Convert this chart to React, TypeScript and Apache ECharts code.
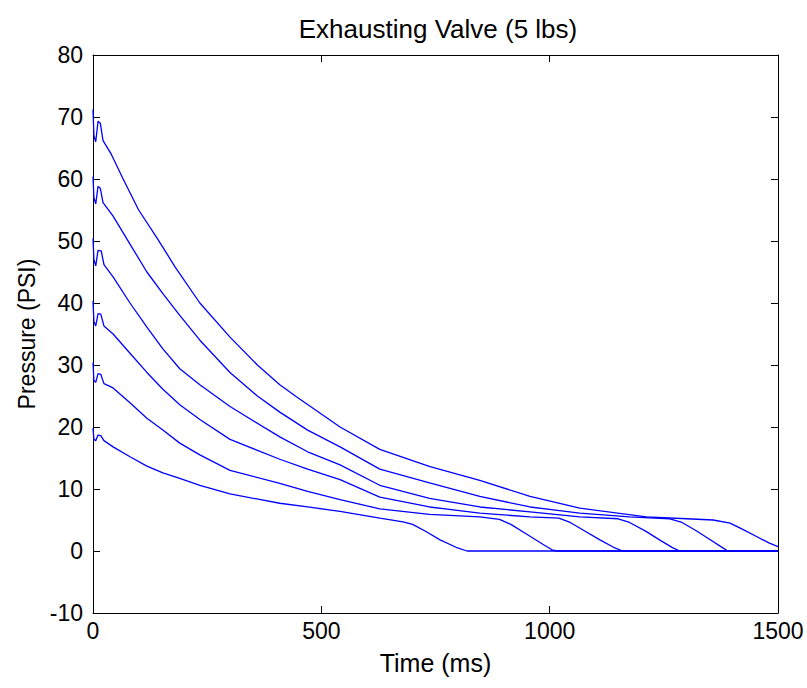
import React, { useEffect, useRef } from "react";
import * as echarts from "echarts";

const titleText = "Exhausting Valve (5 lbs)";
const xName = "Time (ms)";
const yName = "Pressure (PSI)";
const xTicks = { min: 0, max: 1500, interval: 500 };
const yTicks = { min: -10, max: 80, interval: 10 };

const p70: [number, number][] = [
  [0, 71.2], [2, 67], [6, 66], [11, 69.3], [16, 69], [22, 66.2], [40, 64], [66, 60], [100, 55],
  [140, 50.5], [180, 45.8], [234, 40], [300, 34.5], [360, 30], [409, 26.8], [447, 24.8], [541, 20],
  [628, 16.4], [738, 13.6], [847, 11.4], [957, 8.8], [1066, 6.9], [1212, 5.5], [1300, 5.2],
  [1358, 5.0], [1395, 4.5], [1425, 3.4], [1454, 2.3], [1480, 1.3], [1500, 0.7],
];
const p60: [number, number][] = [
  [0, 60.4], [2, 57], [6, 56], [11, 58.8], [16, 58.5], [22, 56.2], [44, 54], [81, 49.5], [118, 45],
  [153, 41.5], [190, 38], [234, 34], [300, 28.8], [360, 25], [409, 22.4], [470, 19.5], [541, 16.8],
  [628, 13.2], [737, 11.0], [847, 8.8], [957, 7.1], [1066, 6.1], [1175, 5.5], [1263, 5.2],
  [1290, 4.6], [1320, 3.3], [1350, 1.9], [1375, 0.7], [1390, 0], [1500, 0],
];
const p50: [number, number][] = [
  [0, 50.4], [2, 47], [6, 46], [11, 48.5], [18, 48.4], [24, 46.2], [44, 44.2], [81, 40], [118, 36.1],
  [153, 32.6], [190, 29.4], [234, 26.8], [300, 23.3], [409, 18.4], [470, 16], [541, 13.9],
  [628, 10.6], [737, 8.5], [847, 7.1], [957, 6.3], [1066, 5.5], [1150, 5.2], [1175, 4.6],
  [1210, 3.2], [1245, 1.6], [1270, 0.5], [1285, 0], [1500, 0],
];
const p40: [number, number][] = [
  [0, 40.3], [2, 37], [6, 36.3], [11, 38.3], [17, 38.2], [24, 36.3], [44, 35], [81, 31.9], [118, 28.8],
  [153, 26.1], [190, 23.6], [234, 21.2], [300, 18], [409, 14.8], [470, 13.2], [541, 11.5],
  [628, 8.7], [737, 7.1], [847, 6.1], [957, 5.5], [1020, 5.3], [1045, 4.6], [1075, 3.3],
  [1110, 1.8], [1140, 0.6], [1160, 0], [1500, 0],
];
const p30: [number, number][] = [
  [0, 30.4], [2, 27.5], [6, 27.2], [11, 28.6], [17, 28.5], [24, 27], [44, 26.3], [81, 23.9], [118, 21.4],
  [153, 19.5], [190, 17.4], [234, 15.5], [300, 13], [409, 10.9], [470, 9.6], [541, 8.3],
  [628, 6.8], [737, 5.9], [847, 5.5], [890, 5.1], [915, 4.3], [950, 2.7], [985, 1.1],
  [1005, 0.2], [1016, 0], [1500, 0],
];
const p20: [number, number][] = [
  [0, 19.8], [2, 18], [6, 17.8], [11, 18.7], [17, 18.6], [24, 17.8], [44, 16.8], [81, 15.2], [118, 13.7],
  [153, 12.6], [190, 11.7], [234, 10.6], [300, 9.2], [409, 7.7], [470, 7.1], [541, 6.4],
  [628, 5.3], [679, 4.7], [700, 4.3], [730, 3.1], [760, 1.8], [795, 0.6], [819, 0], [1500, 0],
];

const seriesData = [p70, p60, p50, p40, p30, p20];
const FONT = "Liberation Sans, Arial, Helvetica, sans-serif";

export default function App() {
  const ref = useRef<HTMLDivElement>(null);
  useEffect(() => {
    document.body.style.margin = "0";
    if (!ref.current) return;
    const chart = echarts.init(ref.current, null, { renderer: "svg" });
    const axisLine = { show: true, onZero: false, lineStyle: { color: "#000", width: 1 } };
    const tick = { show: true, inside: true, length: 7, lineStyle: { color: "#000", width: 1 } };
    const label = { color: "#000", fontSize: 23, fontFamily: FONT };
    const fmt = (v: number) => String(v);
    chart.setOption({
      animation: false,
      backgroundColor: "#fff",
      title: {
        text: titleText,
        left: 433,
        top: 11,
        textAlign: "center",
        textStyle: { color: "#000", fontSize: 26, fontWeight: "normal", fontFamily: FONT },
      },
      grid: { left: 93, right: 29, top: 55, bottom: 75, containLabel: false },
      xAxis: [
        {
          type: "value", position: "bottom", ...xTicks,
          axisLine, axisTick: tick, splitLine: { show: false },
          axisLabel: { ...label, margin: 6, formatter: fmt },
          name: xName, nameLocation: "middle", nameGap: 37,
          nameTextStyle: { ...label, fontSize: 25 },
        },
        {
          type: "value", position: "top", ...xTicks,
          axisLine, axisTick: tick, splitLine: { show: false }, axisLabel: { show: false },
        },
      ],
      yAxis: [
        {
          type: "value", position: "left", ...yTicks,
          axisLine, axisTick: tick, splitLine: { show: false },
          axisLabel: { ...label, margin: 10, formatter: fmt },
          name: yName, nameLocation: "middle", nameGap: 50, nameRotate: 90,
          nameTextStyle: { ...label },
        },
        {
          type: "value", position: "right", ...yTicks,
          axisLine, axisTick: tick, splitLine: { show: false }, axisLabel: { show: false },
        },
      ],
      series: seriesData.map((d) => ({
        type: "line",
        data: d,
        showSymbol: false,
        symbol: "none",
        xAxisIndex: 0,
        yAxisIndex: 0,
        lineStyle: { color: "#0000ff", width: 1.3 },
        silent: true,
      })),
    });
    return () => chart.dispose();
  }, []);
  return <div ref={ref} style={{ width: 807, height: 688 }} />;
}
